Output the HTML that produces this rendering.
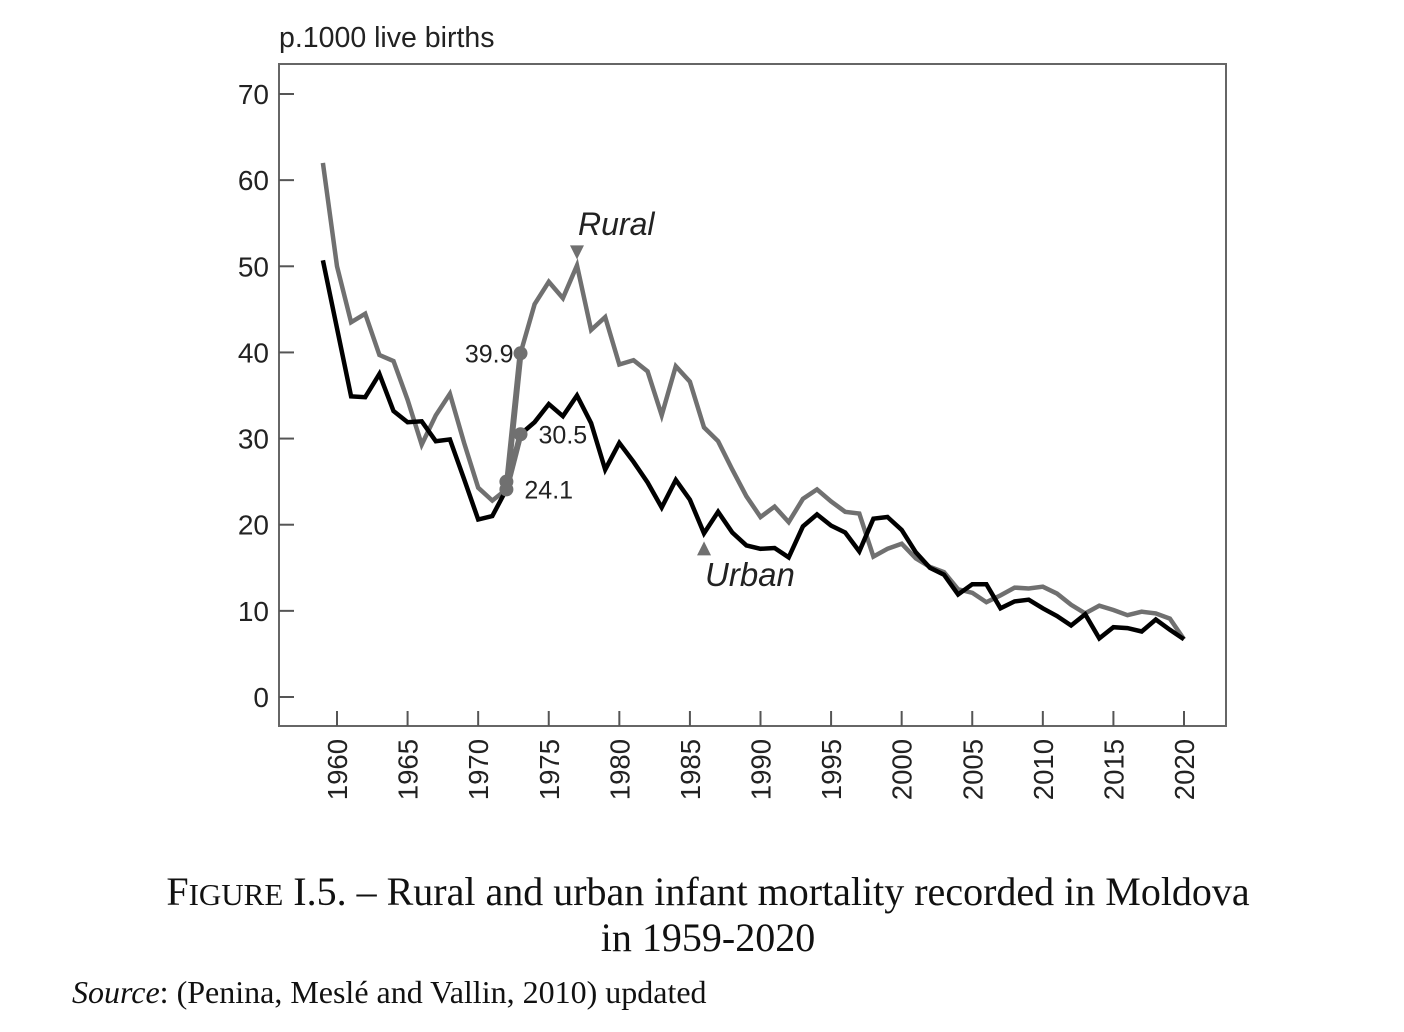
<!DOCTYPE html>
<html><head><meta charset="utf-8"><style>
html,body{margin:0;padding:0;background:#fff;width:1404px;height:1032px;overflow:hidden}
svg{display:block}
</style></head><body>
<svg id="chart" width="1404" height="1032" xmlns="http://www.w3.org/2000/svg" font-family="Liberation Sans, Arial, sans-serif">
<rect x="279" y="64" width="947" height="662" fill="none" stroke="#666" stroke-width="2"/>
<text x="279" y="47" font-size="28.5" fill="#222">p.1000 live births</text>
<g id="yticks"></g><g id="xticks"></g><g id="series"></g>
<text x="578" y="235" font-size="32" font-style="italic" fill="#222">Rural</text>
<text x="705" y="586" font-size="33" font-style="italic" fill="#222">Urban</text>
<text x="708" y="905" font-size="40" text-anchor="middle" font-family="Liberation Serif, serif" fill="#111">F<tspan font-size="31">IGURE</tspan> I.5. – Rural and urban infant mortality recorded in Moldova</text>
<text x="708" y="951" font-size="40" text-anchor="middle" font-family="Liberation Serif, serif" fill="#111">in 1959-2020</text>
<text x="72" y="1003" font-size="32" font-family="Liberation Serif, serif" fill="#111"><tspan font-style="italic">Source</tspan>: (Penina, Meslé and Vallin, 2010) updated</text>
</svg>
<script>
const years = [];
for (let y = 1959; y <= 2020; y++) years.push(y);
const rural = [62,50,43.5,44.5,39.7,39,34.5,29.3,32.7,35.2,29.5,24.3,22.8,24.1,39.9,45.6,48.2,46.3,50.1,42.6,44.1,38.6,39.1,37.8,32.7,38.4,36.6,31.3,29.7,26.4,23.3,20.9,22.1,20.3,23,24.1,22.7,21.5,21.3,16.3,17.2,17.8,16.1,15.1,14.5,12.5,12.1,11.0,11.8,12.7,12.6,12.8,12.0,10.7,9.7,10.6,10.1,9.5,9.9,9.7,9.1,6.7];
const urban = [50.7,42.8,34.9,34.8,37.5,33.2,31.9,32.0,29.7,29.9,25.3,20.6,21.0,24.1,30.5,31.9,34.0,32.6,35.0,31.8,26.4,29.5,27.3,24.9,22.0,25.2,22.9,19.0,21.5,19.1,17.6,17.2,17.3,16.2,19.8,21.2,19.9,19.1,16.9,20.7,20.9,19.4,16.8,15.0,14.2,11.9,13.1,13.1,10.3,11.1,11.3,10.3,9.4,8.3,9.6,6.8,8.1,8.0,7.6,9.0,7.8,6.7];
const yTicks = [0,10,20,30,40,50,60,70];
const xTicks = [1960,1965,1970,1975,1980,1985,1990,1995,2000,2005,2010,2015,2020];
const annotations = [{year:1973,value:39.9,label:"39.9",side:"left"},{year:1973,value:30.5,label:"30.5",side:"right"},{year:1972,value:24.1,label:"24.1",side:"right"}];

const NS = "http://www.w3.org/2000/svg";
const X = yr => 337 + (yr - 1960) * (1184 - 337) / 60;
const Y = v => 697 - v * (697 - 94) / 70;
function mk(tag, attrs, parent){const e=document.createElementNS(NS,tag);for(const k in attrs)e.setAttribute(k,attrs[k]);parent.appendChild(e);return e;}

const yg = document.getElementById('yticks');
yTicks.forEach(t=>{
  const l = mk('line',{x1:279,x2:294,y1:Y(t),y2:Y(t),stroke:'#555','stroke-width':2},yg);
  
  
  const tx = mk('text',{x:269,y:Y(t)+10,'font-size':28,'text-anchor':'end',fill:'#222'},yg);
  tx.textContent = t;
  
  
});
const xg = document.getElementById('xticks');
xTicks.forEach(t=>{
  const l = mk('line',{x1:X(t),x2:X(t),y1:726,y2:711,stroke:'#555','stroke-width':2},xg);
  
  
  const tx = mk('text',{transform:`translate(${X(t)+10},739) rotate(-90)`,'font-size':27.5,'text-anchor':'end',fill:'#222'},xg);
  tx.textContent = t;
  
  
});

const sg = document.getElementById('series');
function pts(arr){return arr.map((v,i)=>X(years[i]).toFixed(1)+','+Y(v).toFixed(1)).join(' ');}
const rl = mk('polyline',{points:pts(rural),fill:'none',stroke:'#707070','stroke-width':4.5,'stroke-linejoin':'miter'},sg);


const ul = mk('polyline',{points:pts(urban),fill:'none',stroke:'#000','stroke-width':4.5,'stroke-linejoin':'miter'},sg);



const i72 = years.indexOf(1972), i73 = years.indexOf(1973);
[[rural],[urban]].forEach(([arr])=>{
  const s = mk('line',{x1:X(1972),y1:Y(arr[i72]),x2:X(1973),y2:Y(arr[i73]),stroke:'#707070','stroke-width':6},sg);
  
  
});
[[1972,rural[i72]],[1972,urban[i72]+0.9],[1973,rural[i73]],[1973,urban[i73]]].forEach(([yr,v])=>{
  const c = mk('circle',{cx:X(yr),cy:Y(v),r:7,fill:'#707070'},sg);
  
  
});
annotations.forEach(a=>{
  const x = a.side==='left' ? X(a.year)-7 : X(a.year)+18;
  const t = mk('text',{x:x,y:Y(a.value)+9,'font-size':25,'text-anchor':a.side==='left'?'end':'start',fill:'#222'},sg);
  t.textContent = a.label;
  
  
});
const r77 = rural[years.indexOf(1977)];
const tx1 = X(1977), ty1 = Y(r77);
const td = mk('polygon',{points:`${tx1-7},${ty1-20} ${tx1+7},${ty1-20} ${tx1},${ty1-6}`,fill:'#707070'},sg);


const u86 = urban[years.indexOf(1986)];
const tx2 = X(1986), ty2 = Y(u86);
const tu = mk('polygon',{points:`${tx2-7},${ty2+22} ${tx2+7},${ty2+22} ${tx2},${ty2+8}`,fill:'#707070'},sg);


</script>
</body></html>
